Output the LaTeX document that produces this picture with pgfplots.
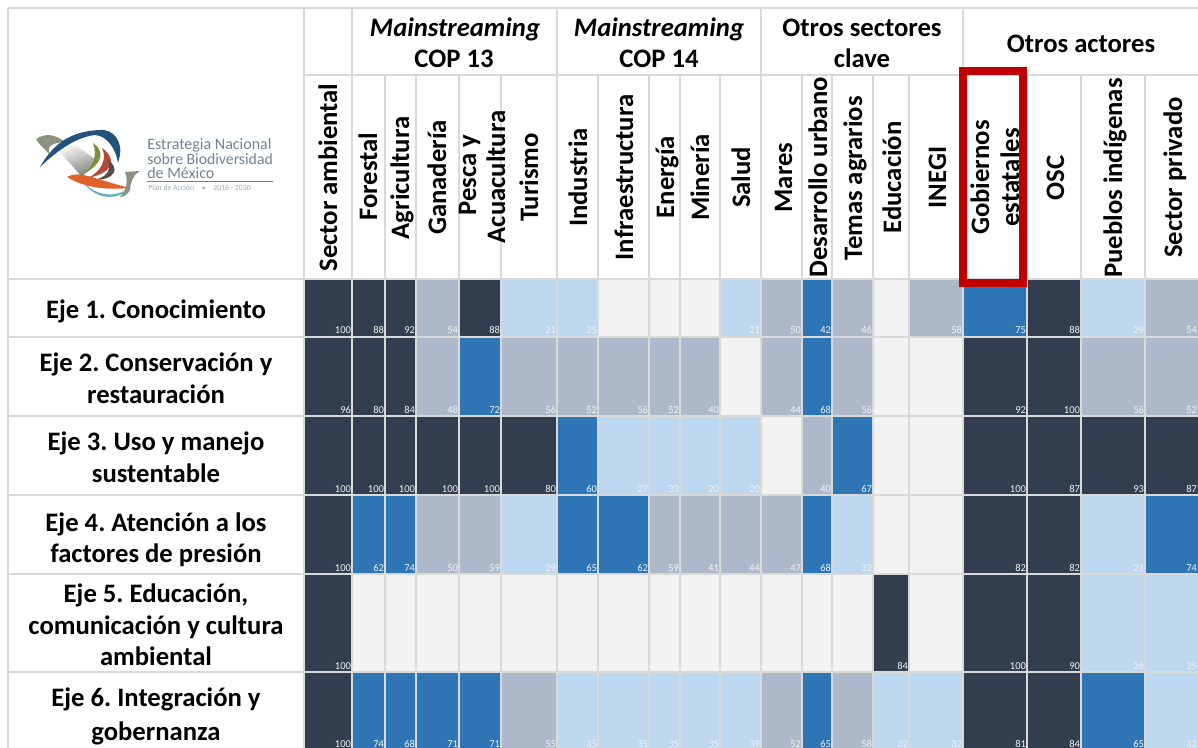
\documentclass[border=0pt]{standalone}
\usepackage{pgfplots}
\pgfplotsset{compat=1.18}
\usepackage{fontspec}
\setmainfont{Carlito}
\frenchspacing
\definecolor{D}{HTML}{323E4F}
\definecolor{G}{HTML}{ADB9CA}
\definecolor{B}{HTML}{2E75B6}
\definecolor{L}{HTML}{BDD7EE}
\definecolor{E}{HTML}{F2F2F2}
\definecolor{GL}{HTML}{D9D9D9}
\definecolor{LT}{HTML}{6F8294}
\newcommand\hd{\fontsize{20pt}{24pt}\selectfont\bfseries}
\tikzset{val/.style={anchor=base east,inner sep=0pt,text=E,font=\fontsize{7.9pt}{9pt}\selectfont},
 hl/.style={anchor=base,inner sep=0pt,font=\hd,text=black},
 vl/.style={anchor=base,rotate=90,inner sep=0pt,font=\hd,text=black},
 lg/.style={anchor=base west,inner sep=0pt,text=LT},
 gl/.style={draw=GL,line width=1.5pt}}
% left x, right x, top y, bottom y, colour class, value
\newcommand\cell[6]{%
 \addplot[fill=#5,draw=none,forget plot] coordinates {(#1,#3)(#2,#3)(#2,#4)(#1,#4)} --cycle;
 \node[val] at (#2-0.8,#4-2.5) {#6};}
\def\ya{279}\def\yb{336.5}\def\yc{416}\def\yd{495}\def\ye{574}\def\yf{671.5}\def\yg{749.5}
\begin{document}
\begin{tikzpicture}
\begin{axis}[hide axis,scale only axis,width=898.5pt,height=561pt,
 xmin=0,xmax=1198,ymin=0,ymax=748,y dir=reverse,clip=false]
\path[use as bounding box] (0,0) rectangle (1198,748);
% --- Eje 1
\cell{304}{352}{\ya}{\yb}{D}{100}\cell{352}{385}{\ya}{\yb}{D}{88}\cell{385}{416}{\ya}{\yb}{D}{92}\cell{416}{459}{\ya}{\yb}{G}{54}\cell{459}{501}{\ya}{\yb}{D}{88}\cell{501}{557}{\ya}{\yb}{L}{21}\cell{557}{598}{\ya}{\yb}{L}{25}\cell{598}{649}{\ya}{\yb}{E}{}\cell{649}{680}{\ya}{\yb}{E}{}\cell{680}{720}{\ya}{\yb}{E}{}\cell{720}{761}{\ya}{\yb}{L}{21}\cell{761}{802}{\ya}{\yb}{G}{50}\cell{802}{832}{\ya}{\yb}{B}{42}\cell{832}{873}{\ya}{\yb}{G}{46}\cell{873}{909}{\ya}{\yb}{E}{}\cell{909}{963}{\ya}{\yb}{G}{58}\cell{963}{1027}{\ya}{\yb}{B}{75}\cell{1027}{1081}{\ya}{\yb}{D}{88}\cell{1081}{1145}{\ya}{\yb}{L}{29}\cell{1145}{1198}{\ya}{\yb}{G}{54}
% --- Eje 2
\cell{304}{352}{\yb}{\yc}{D}{96}\cell{352}{385}{\yb}{\yc}{D}{80}\cell{385}{416}{\yb}{\yc}{D}{84}\cell{416}{459}{\yb}{\yc}{G}{48}\cell{459}{501}{\yb}{\yc}{B}{72}\cell{501}{557}{\yb}{\yc}{G}{56}\cell{557}{598}{\yb}{\yc}{G}{52}\cell{598}{649}{\yb}{\yc}{G}{56}\cell{649}{680}{\yb}{\yc}{G}{52}\cell{680}{720}{\yb}{\yc}{G}{40}\cell{720}{761}{\yb}{\yc}{E}{}\cell{761}{802}{\yb}{\yc}{G}{44}\cell{802}{832}{\yb}{\yc}{B}{68}\cell{832}{873}{\yb}{\yc}{G}{56}\cell{873}{909}{\yb}{\yc}{E}{}\cell{909}{963}{\yb}{\yc}{E}{}\cell{963}{1027}{\yb}{\yc}{D}{92}\cell{1027}{1081}{\yb}{\yc}{D}{100}\cell{1081}{1145}{\yb}{\yc}{G}{56}\cell{1145}{1198}{\yb}{\yc}{G}{52}
% --- Eje 3
\cell{304}{352}{\yc}{\yd}{D}{100}\cell{352}{385}{\yc}{\yd}{D}{100}\cell{385}{416}{\yc}{\yd}{D}{100}\cell{416}{459}{\yc}{\yd}{D}{100}\cell{459}{501}{\yc}{\yd}{D}{100}\cell{501}{557}{\yc}{\yd}{D}{80}\cell{557}{598}{\yc}{\yd}{B}{60}\cell{598}{649}{\yc}{\yd}{L}{27}\cell{649}{680}{\yc}{\yd}{L}{33}\cell{680}{720}{\yc}{\yd}{L}{20}\cell{720}{761}{\yc}{\yd}{L}{20}\cell{761}{802}{\yc}{\yd}{E}{}\cell{802}{832}{\yc}{\yd}{G}{40}\cell{832}{873}{\yc}{\yd}{B}{67}\cell{873}{909}{\yc}{\yd}{E}{}\cell{909}{963}{\yc}{\yd}{E}{}\cell{963}{1027}{\yc}{\yd}{D}{100}\cell{1027}{1081}{\yc}{\yd}{D}{87}\cell{1081}{1145}{\yc}{\yd}{D}{93}\cell{1145}{1198}{\yc}{\yd}{D}{87}
% --- Eje 4
\cell{304}{352}{\yd}{\ye}{D}{100}\cell{352}{385}{\yd}{\ye}{B}{62}\cell{385}{416}{\yd}{\ye}{B}{74}\cell{416}{459}{\yd}{\ye}{G}{50}\cell{459}{501}{\yd}{\ye}{G}{59}\cell{501}{557}{\yd}{\ye}{L}{29}\cell{557}{598}{\yd}{\ye}{B}{65}\cell{598}{649}{\yd}{\ye}{B}{62}\cell{649}{680}{\yd}{\ye}{G}{59}\cell{680}{720}{\yd}{\ye}{G}{41}\cell{720}{761}{\yd}{\ye}{G}{44}\cell{761}{802}{\yd}{\ye}{G}{47}\cell{802}{832}{\yd}{\ye}{B}{68}\cell{832}{873}{\yd}{\ye}{L}{32}\cell{873}{909}{\yd}{\ye}{E}{}\cell{909}{963}{\yd}{\ye}{E}{}\cell{963}{1027}{\yd}{\ye}{D}{82}\cell{1027}{1081}{\yd}{\ye}{D}{82}\cell{1081}{1145}{\yd}{\ye}{L}{21}\cell{1145}{1198}{\yd}{\ye}{B}{74}
% --- Eje 5
\cell{304}{352}{\ye}{\yf}{D}{100}\cell{352}{385}{\ye}{\yf}{E}{}\cell{385}{416}{\ye}{\yf}{E}{}\cell{416}{459}{\ye}{\yf}{E}{}\cell{459}{501}{\ye}{\yf}{E}{}\cell{501}{557}{\ye}{\yf}{E}{}\cell{557}{598}{\ye}{\yf}{E}{}\cell{598}{649}{\ye}{\yf}{E}{}\cell{649}{680}{\ye}{\yf}{E}{}\cell{680}{720}{\ye}{\yf}{E}{}\cell{720}{761}{\ye}{\yf}{E}{}\cell{761}{802}{\ye}{\yf}{E}{}\cell{802}{832}{\ye}{\yf}{E}{}\cell{832}{873}{\ye}{\yf}{E}{}\cell{873}{909}{\ye}{\yf}{D}{84}\cell{909}{963}{\ye}{\yf}{E}{}\cell{963}{1027}{\ye}{\yf}{D}{100}\cell{1027}{1081}{\ye}{\yf}{D}{90}\cell{1081}{1145}{\ye}{\yf}{L}{26}\cell{1145}{1198}{\ye}{\yf}{L}{35}
% --- Eje 6
\cell{304}{352}{\yf}{\yg}{D}{100}\cell{352}{385}{\yf}{\yg}{B}{74}\cell{385}{416}{\yf}{\yg}{B}{68}\cell{416}{459}{\yf}{\yg}{B}{71}\cell{459}{501}{\yf}{\yg}{B}{71}\cell{501}{557}{\yf}{\yg}{G}{55}\cell{557}{598}{\yf}{\yg}{L}{35}\cell{598}{649}{\yf}{\yg}{L}{35}\cell{649}{680}{\yf}{\yg}{L}{35}\cell{680}{720}{\yf}{\yg}{L}{35}\cell{720}{761}{\yf}{\yg}{L}{39}\cell{761}{802}{\yf}{\yg}{G}{52}\cell{802}{832}{\yf}{\yg}{B}{65}\cell{832}{873}{\yf}{\yg}{G}{58}\cell{873}{909}{\yf}{\yg}{L}{32}\cell{909}{963}{\yf}{\yg}{L}{32}\cell{963}{1027}{\yf}{\yg}{D}{81}\cell{1027}{1081}{\yf}{\yg}{D}{84}\cell{1081}{1145}{\yf}{\yg}{B}{65}\cell{1145}{1198}{\yf}{\yg}{L}{32}
% --- grid lines
\pgfplotsinvokeforeach{8,279,336.5,416,495,574,671.5}{\draw[gl] (8,#1)--(1198,#1);}
\draw[gl] (304,75)--(1198,75);
\pgfplotsinvokeforeach{8,303.5,352,557,761,963}{\draw[gl] (#1,8)--(#1,748);}
\pgfplotsinvokeforeach{385,416,459,501,598,649,680,720,802,832,873,909,1027,1081,1145}{\draw[gl] (#1,75)--(#1,748);}
% --- row labels
\node[hl] at (156,319) {Eje 1. Conocimiento};
\node[hl] at (156,371) {Eje 2. Conservación y};
\node[hl] at (156,403) {restauración};
\node[hl] at (156,450) {Eje 3. Uso y manejo};
\node[hl] at (156,482) {sustentable};
\node[hl] at (156,531) {Eje 4. Atención a los};
\node[hl] at (156,562) {factores de presión};
\node[hl] at (156,602) {Eje 5. Educación,};
\node[hl] at (156,634) {comunicación y cultura};
\node[hl] at (156,665) {ambiental};
\node[hl] at (156,706) {Eje 6. Integración y};
\node[hl] at (156,740) {gobernanza};
% --- group headers
\node[hl] at (455,37) {\itshape Mainstreaming};
\node[hl] at (454,68) {COP 13};
\node[hl] at (659,37) {\itshape Mainstreaming};
\node[hl] at (659,68) {COP 14};
\node[hl] at (862,37) {Otros sectores};
\node[hl] at (862,68) {clave};
\node[hl] at (1081,53) {Otros actores};
% --- column headers
\node[vl] at (337,177.5) {Sector ambiental};
\node[vl] at (377,176.5) {Forestal};
\node[vl] at (409,178) {Agricultura};
\node[vl] at (446,177.5) {Ganadería};
\node[vl] at (476,175) {Pesca y};
\node[vl] at (505,177) {Acuacultura};
\node[vl] at (538,177.5) {Turismo};
\node[vl] at (587,177.5) {Industria};
\node[vl] at (633,177.5) {Infraestructura};
\node[vl] at (674,177) {Energía};
\node[vl] at (709,177.5) {Minería};
\node[vl] at (750,177.5) {Salud};
\node[vl] at (792,177.5) {Mares};
\node[vl] at (827,177.5) {Desarrollo urbano};
\node[vl] at (862,178.5) {Temas agrarios};
\node[vl] at (901,177.5) {Educación};
\node[vl] at (946,177.5) {INEGI};
\node[vl] at (989,177.5) {Gobiernos};
\node[vl] at (1019,177.5) {estatales};
\node[vl] at (1064,178) {OSC};
\node[vl] at (1122,178) {Pueblos indígenas};
\node[vl] at (1182,177.5) {Sector privado};
% --- highlight
\draw[color={rgb,255:red,192;green,0;blue,0},line width=6pt] (963,71) rectangle (1023,283);
% --- logo
\path[left color=white,right color=gray,shading angle=20] (58,150)--(72,142)--(96,160)--(82,177)--cycle;
\fill[color={rgb,255:red,140;green,146;blue,130}] (36,139) .. controls (45,133) and (55,134) .. (65,142) .. controls (52,143) and (46,146) .. (50,155) .. controls (46,150) and (40,146) .. (36,139);
\fill[color={rgb,255:red,36;green,82;blue,127}] (40,167) .. controls (55,140) and (75,131) .. (100,130) .. controls (115,129) and (122,143) .. (120,155) -- (118,163) .. controls (116,150) and (108,136) .. (95,135) .. controls (78,137) and (60,148) .. (40,167);
\fill[color={rgb,255:red,124;green,144;blue,64}] (93,143) .. controls (104,150) and (105,163) .. (82,175) .. controls (95,165) and (97,155) .. (93,143);
\fill[color={rgb,255:red,178;green,74;blue,60}] (102,148) .. controls (116,158) and (116,172) .. (88,178) .. controls (100,172) and (108,160) .. (102,148);
\fill[color={rgb,255:red,90;green,74;blue,72}] (108,160) .. controls (120,168) and (116,180) .. (93,180) .. controls (105,178) and (112,172) .. (108,160);
\fill[color={rgb,255:red,95;green,176;blue,194}] (82,180) .. controls (95,197) and (115,198) .. (130,188) .. controls (120,200) and (95,202) .. (82,180);
\fill[color={rgb,255:red,224;green,99;blue,46}] (67,177) .. controls (80,170) and (90,178) .. (130,188) .. controls (105,190) and (85,188) .. (67,177);
\fill[color={rgb,255:red,139;green,146;blue,132}] (125,172) -- (140,171) .. controls (132,176) and (131,182) .. (130,190) .. controls (128,194) and (124,197) .. (120,197) .. controls (127,190) and (128,180) .. (125,172);
\node[lg,font=\fontsize{12pt}{13pt}\selectfont] at (147,150) {Estrategia Nacional};
\node[lg,font=\fontsize{11.8pt}{13pt}\selectfont] at (147,165) {sobre Biodiversidad};
\node[lg,font=\fontsize{12pt}{13pt}\selectfont] at (147,179) {de México};
\draw[color=LT,line width=0.7pt] (147,181.5)--(273,181.5);
\node[lg,font=\fontsize{5.8pt}{7pt}\selectfont,text=LT!70] at (148,191) {Plan de Acción\quad •\quad 2016 - 2030};
\end{axis}
\end{tikzpicture}
\end{document}
